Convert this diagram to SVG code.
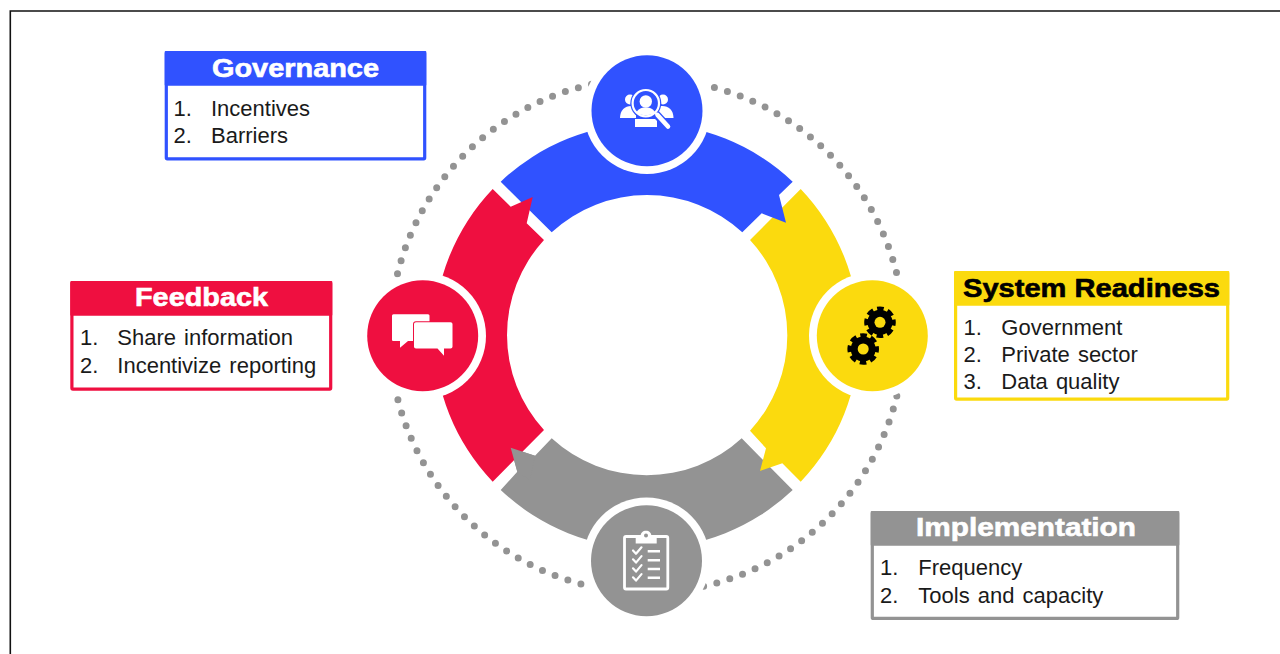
<svg xmlns="http://www.w3.org/2000/svg" xmlns:xlink="http://www.w3.org/1999/xlink" width="1280" height="654" viewBox="0 0 1280 654">
<style>
.bg{fill:#fff}
.frame{fill:none;stroke:#111;stroke-width:1.6}
.dots{fill:none;stroke:#939393;stroke-width:7;stroke-linecap:round;stroke-dasharray:0 13.6}
.ring{fill:#fff}
.b{fill:#3052FF}.r{fill:#EF0F40}.y{fill:#FBDA0E}.g{fill:#939393}
.box{fill:#fff;stroke-width:3.2}
.bs{stroke:#3052FF}.rs{stroke:#EF0F40}.ys{stroke:#FBDA0E}.gs{stroke:#939393}
.title{font:bold 26px "Liberation Sans",Arial,sans-serif;text-anchor:middle;fill:#fff;stroke:#fff;stroke-width:.6}
.title.dark{fill:#000;stroke:#000}
.item{font:22px "Liberation Sans",Arial,sans-serif;fill:#1a1a1a;word-spacing:2px}
.w{fill:#fff}
.wl{fill:none;stroke:#fff;stroke-linecap:round;stroke-linejoin:round}
</style>
<defs>
<g id="gear"><circle r="12.5" fill="#000"/><circle r="13.5" fill="none" stroke="#000" stroke-width="4.6" stroke-dasharray="6.500 4.100" stroke-dashoffset="3.250"/><circle r="5.500" class="y"/></g>
</defs>
<rect width="1280" height="654" class="bg"/>
<path class="frame" d="M10.300 654V11H1280"/>
<g id="connectors">
<path class="dots" d="M714.400 87.500A257 257 0 0 1 897 274.600"/>
<path class="dots" d="M896.800 395.900A257 257 0 0 1 702 586.600"/>
<path class="dots" d="M580.900 583.900A257 257 0 0 1 397.400 397.800"/>
<path class="dots" d="M397.500 273.800A257 257 0 0 1 592.200 84.200"/>
<path id="arc-implementation" class="g" d="M500.700 490L517.300 471.700L510.700 447.700L535 455.700L551.700 438.300A140.500 140.500 0 0 0 741.700 438.300L792.700 490A212 212 0 0 1 500.700 490Z"/>
<path id="arc-readiness" class="y" d="M800.700 189A212 212 0 0 1 800.700 481.700L782.300 463.300L760 471L766 448.300L750 430.700A140.500 140.500 0 0 0 750 240Z"/>
<path id="arc-governance" class="b" d="M500.700 181.700A212 212 0 0 1 792.700 181.700L779 195L786 222.700L761.700 213.300L742.300 232.300A140.500 140.500 0 0 0 551.700 232.300Z"/>
<path id="arc-feedback" class="r" d="M492.700 481.700A212 212 0 0 1 492.700 189L510.700 206.700L532.700 197L526.700 223.300L544 240A140.500 140.500 0 0 0 544 430Z"/>
<path id="arc-implementation-tip" class="g" d="M517.300 471.700L510.700 447.700L535 455.700L530 480Z"/>
</g>
<g id="node-governance">
<circle class="ring" cx="647" cy="110.700" r="63.300"/>
<circle class="b" cx="647" cy="110.700" r="55.500"/>
<circle class="w" cx="630" cy="99.500" r="5"/>
<circle class="w" cx="663" cy="99.500" r="5"/>
<path class="w" d="M620 118C620 110 625 106 631 106H636V118Z"/>
<path class="w" d="M673.500 118C673.500 110 668.500 106 662.500 106H657V118Z"/>
<path class="w" d="M635 127V119H657V127Z"/>
<circle class="b" cx="645.800" cy="103.200" r="15.500"/>
<circle class="wl" cx="645.800" cy="103.200" r="13.200" stroke-width="2.200"/>
<circle class="w" cx="645.800" cy="101.500" r="6.200"/>
<path class="w" d="M636.500 113C637 109.500 641 107.500 645.800 107.500C650.500 107.500 654.500 109.500 655 113C650 116 641.500 116 636.500 113Z"/>
<path d="M656 114L668 127" stroke="#3052FF" stroke-width="8" fill="none"/>
<path class="wl" d="M657.500 115L668 126.500" stroke-width="4.600"/>
<path class="wl" d="M655 112.500L658 115.500" stroke-width="2.200"/>
<rect class="box bs" x="166.300" y="52.600" width="258.400" height="106.200" rx="1"/>
<rect class="b" x="164.700" y="51" width="261.600" height="34.800" rx="1"/>
<text class="title" x="295.500" y="77" textLength="167" lengthAdjust="spacingAndGlyphs">Governance</text>
<text class="item" x="173.500" y="115.500">1.</text><text class="item" x="211" y="115.500">Incentives</text>
<text class="item" x="173.500" y="142.700">2.</text><text class="item" x="211" y="142.700">Barriers</text>
</g>
<g id="node-readiness">
<circle class="ring" cx="872.300" cy="335.700" r="63.300"/>
<circle class="y" cx="872.300" cy="335.700" r="55.500"/>
<use href="#gear" xlink:href="#gear" x="880" y="322.300"/>
<use href="#gear" xlink:href="#gear" x="863.200" y="349"/>
<rect class="box ys" x="955.600" y="272.600" width="272.100" height="126.500" rx="1"/>
<rect class="y" x="954" y="271" width="275.300" height="34.800" rx="1"/>
<text class="title dark" x="1091.500" y="296.700" textLength="257" lengthAdjust="spacingAndGlyphs">System Readiness</text>
<text class="item" x="963.500" y="335">1.</text><text class="item" x="1001.300" y="335">Government</text>
<text class="item" x="963.500" y="362">2.</text><text class="item" x="1001.300" y="362">Private sector</text>
<text class="item" x="963.500" y="389">3.</text><text class="item" x="1001.300" y="389">Data quality</text>
</g>
<g id="node-implementation">
<circle class="ring" cx="646.500" cy="560.700" r="63.300"/>
<circle class="g" cx="646.500" cy="560.700" r="55.500"/>
<rect x="624.500" y="536.500" width="43.300" height="52.500" rx="1.500" fill="none" stroke="#fff" stroke-width="2.800"/>
<path class="w" d="M635.700 543.500V536.500H640.500C640.500 532.500 643 530.700 646 530.700C649 530.700 651.500 532.500 651.500 536.500H656.700V543.500Z"/>
<circle class="g" cx="646" cy="535.400" r="2"/>
<path class="wl" stroke-width="2.200" d="M633 550.500L636 553.800L641.500 547.300M633 559.300L636 562.600L641.500 556.100M633 568.300L636 571.600L641.500 565.100M633 577.300L636 580.600L641.500 574.100"/>
<path fill="none" stroke="#fff" stroke-width="2.600" d="M647.700 551.300H660M647.700 560.300H660M647.700 569H660M647.700 577.700H660"/>
<rect class="box gs" x="872.300" y="512.600" width="305.400" height="105.800" rx="1"/>
<rect class="g" x="870.700" y="511" width="308.600" height="34.800" rx="1"/>
<text class="title" x="1026" y="536" textLength="220" lengthAdjust="spacingAndGlyphs">Implementation</text>
<text class="item" x="880" y="575">1.</text><text class="item" x="918.300" y="575">Frequency</text>
<text class="item" x="880" y="602.500">2.</text><text class="item" x="918.300" y="602.500">Tools and capacity</text>
</g>
<g id="node-feedback">
<circle class="ring" cx="422.700" cy="335.700" r="63.300"/>
<circle class="r" cx="422.700" cy="335.700" r="55.500"/>
<path class="w" d="M393.500 314.300H428C429 314.300 429.500 315 429.500 316V341H408L400 347.700V341H393.500C392.500 341 392 340.500 392 339.500V316C392 315 392.500 314.300 393.500 314.300Z"/>
<path class="w" d="M416 322.300H450.500C451.700 322.300 452.500 323 452.500 324.300V346.500C452.500 347.700 451.700 348.500 450.500 348.500H444V355.700L437.500 348.500H416C414.800 348.500 414 347.700 414 346.500V324.300C414 323 414.800 322.300 416 322.300Z" stroke="#EF0F40" stroke-width="2" paint-order="stroke"/>
<rect class="box rs" x="71.900" y="282.600" width="258.800" height="106.500" rx="1"/>
<rect class="r" x="70.300" y="281" width="262" height="34.800" rx="1"/>
<text class="title" x="201.500" y="306" textLength="133" lengthAdjust="spacingAndGlyphs">Feedback</text>
<text class="item" x="80" y="345">1.</text><text class="item" x="117.300" y="345">Share information</text>
<text class="item" x="80" y="372.500">2.</text><text class="item" x="117.300" y="372.500">Incentivize reporting</text>
</g>
</svg>
